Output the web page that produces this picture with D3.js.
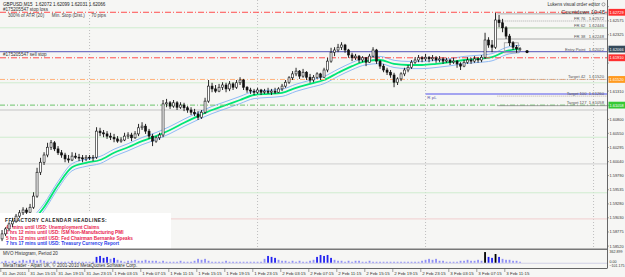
<!DOCTYPE html>
<html>
<head>
<meta charset="utf-8">
<script src="https://cdn.jsdelivr.net/npm/d3@7/dist/d3.min.js"></script>
<style>
  body { margin: 0; background: #fff; }
  svg { display: block; font-family: "Liberation Sans", Arial, sans-serif; }
  text { white-space: pre; }
</style>
</head>
<body>
<script>
// GBPUSD bars (30 min steps)
const firstBarTime = Date.UTC(2011, 0, 31, 11, 30);
const barStepMin = 30;

const open = [
  1.5865,1.5874,1.5883,1.5892,1.5897,1.5906,1.5912,1.5917,1.5913,1.5922,
  1.5942,1.5985,1.6003,1.6016,1.6030,1.6038,1.6027,1.6020,1.6016,1.6009,
  1.6007,1.6014,1.6012,1.6011,1.6009,1.6012,1.6011,1.6012,1.6059,1.6056,
  1.6054,1.6050,1.6048,1.6045,1.6041,1.6043,1.6050,1.6052,1.6047,1.6054,
  1.6065,1.6068,1.6059,1.6050,1.6041,1.6047,1.6052,1.6108,1.6110,1.6104,
  1.6110,1.6102,1.6106,1.6101,1.6097,1.6093,1.6090,1.6084,1.6093,1.6113,
  1.6140,1.6135,1.6131,1.6138,1.6142,1.6135,1.6144,1.6138,1.6146,1.6151,
  1.6138,1.6133,1.6131,1.6129,1.6133,1.6129,1.6131,1.6129,1.6131,1.6129,
  1.6135,1.6140,1.6147,1.6155,1.6162,1.6167,1.6158,1.6165,1.6156,1.6151,
  1.6156,1.6162,1.6156,1.6169,1.6185,1.6201,1.6205,1.6210,1.6214,1.6205,
  1.6196,1.6191,1.6194,1.6187,1.6191,1.6183,1.6194,1.6205,1.6185,1.6176,
  1.6169,1.6165,1.6160,1.6147,1.6153,1.6162,1.6169,1.6174,1.6183,1.6187,
  1.6191,1.6189,1.6192,1.6189,1.6191,1.6187,1.6189,1.6185,1.6187,1.6183,
  1.6185,1.6180,1.6176,1.6183,1.6187,1.6185,1.6189,1.6187,1.6192,1.6223,
  1.6214,1.6210,1.6259,1.6254,1.6245,1.6230,1.6218,1.6210,1.6207
];
const high = [
  1.5881,1.5886,1.5895,1.5903,1.5910,1.5917,1.5922,1.5921,1.5928,1.5949,
  1.5993,1.6011,1.6021,1.6038,1.6043,1.6041,1.6032,1.6025,1.6020,1.6016,
  1.6021,1.6020,1.6018,1.6016,1.6016,1.6016,1.6016,1.6066,1.6065,1.6061,
  1.6059,1.6056,1.6054,1.6050,1.6048,1.6056,1.6057,1.6056,1.6059,1.6072,
  1.6075,1.6072,1.6063,1.6054,1.6050,1.6056,1.6115,1.6117,1.6113,1.6115,
  1.6113,1.6111,1.6110,1.6104,1.6102,1.6099,1.6095,1.6097,1.6119,1.6151,
  1.6146,1.6142,1.6144,1.6147,1.6146,1.6149,1.6147,1.6151,1.6156,1.6153,
  1.6140,1.6137,1.6135,1.6137,1.6135,1.6135,1.6137,1.6135,1.6137,1.6138,
  1.6144,1.6151,1.6158,1.6167,1.6173,1.6169,1.6171,1.6167,1.6162,1.6160,
  1.6165,1.6164,1.6173,1.6191,1.6209,1.6210,1.6216,1.6219,1.6216,1.6207,
  1.6200,1.6198,1.6196,1.6194,1.6192,1.6198,1.6210,1.6207,1.6187,1.6180,
  1.6173,1.6169,1.6164,1.6156,1.6165,1.6173,1.6178,1.6187,1.6192,1.6196,
  1.6194,1.6198,1.6194,1.6196,1.6194,1.6194,1.6192,1.6191,1.6189,1.6191,
  1.6187,1.6183,1.6187,1.6192,1.6191,1.6194,1.6192,1.6196,1.6236,1.6228,
  1.6223,1.6272,1.6268,1.6261,1.6248,1.6234,1.6221,1.6214,1.6210
];
const low = [
  1.5861,1.5870,1.5879,1.5886,1.5894,1.5903,1.5908,1.5910,1.5912,1.5919,
  1.5939,1.5980,1.5998,1.6012,1.6025,1.6023,1.6016,1.6011,1.6003,1.6002,
  1.6005,1.6009,1.6005,1.6003,1.6005,1.6007,1.6005,1.6009,1.6050,1.6048,
  1.6045,1.6043,1.6039,1.6038,1.6038,1.6041,1.6045,1.6041,1.6045,1.6050,
  1.6061,1.6054,1.6045,1.6032,1.6038,1.6043,1.6048,1.6102,1.6099,1.6101,
  1.6097,1.6099,1.6095,1.6092,1.6088,1.6086,1.6079,1.6081,1.6090,1.6110,
  1.6129,1.6128,1.6129,1.6133,1.6129,1.6131,1.6133,1.6135,1.6142,1.6133,
  1.6128,1.6126,1.6124,1.6126,1.6124,1.6126,1.6126,1.6124,1.6126,1.6128,
  1.6131,1.6137,1.6144,1.6151,1.6158,1.6153,1.6155,1.6151,1.6146,1.6147,
  1.6153,1.6151,1.6155,1.6165,1.6182,1.6194,1.6201,1.6205,1.6200,1.6191,
  1.6185,1.6187,1.6182,1.6183,1.6176,1.6182,1.6191,1.6180,1.6171,1.6165,
  1.6160,1.6155,1.6138,1.6142,1.6149,1.6158,1.6165,1.6171,1.6180,1.6183,
  1.6183,1.6185,1.6183,1.6185,1.6182,1.6183,1.6180,1.6182,1.6178,1.6180,
  1.6173,1.6169,1.6174,1.6180,1.6180,1.6182,1.6182,1.6183,1.6189,1.6209,
  1.6201,1.6207,1.6246,1.6237,1.6225,1.6212,1.6205,1.6200,1.6203
];
const close = [
  1.5874,1.5883,1.5892,1.5897,1.5906,1.5912,1.5917,1.5913,1.5922,1.5942,
  1.5985,1.6003,1.6016,1.6030,1.6038,1.6027,1.6020,1.6016,1.6009,1.6007,
  1.6014,1.6012,1.6011,1.6009,1.6012,1.6011,1.6012,1.6059,1.6056,1.6054,
  1.6050,1.6048,1.6045,1.6041,1.6043,1.6050,1.6052,1.6047,1.6054,1.6065,
  1.6068,1.6059,1.6050,1.6041,1.6047,1.6052,1.6108,1.6110,1.6104,1.6110,
  1.6102,1.6106,1.6101,1.6097,1.6093,1.6090,1.6084,1.6093,1.6113,1.6140,
  1.6135,1.6131,1.6138,1.6142,1.6135,1.6144,1.6138,1.6146,1.6151,1.6138,
  1.6133,1.6131,1.6129,1.6133,1.6129,1.6131,1.6129,1.6131,1.6129,1.6135,
  1.6140,1.6147,1.6155,1.6162,1.6167,1.6158,1.6165,1.6156,1.6151,1.6156,
  1.6162,1.6156,1.6169,1.6185,1.6201,1.6205,1.6210,1.6214,1.6205,1.6196,
  1.6191,1.6194,1.6187,1.6191,1.6183,1.6194,1.6205,1.6185,1.6176,1.6169,
  1.6165,1.6160,1.6147,1.6153,1.6162,1.6169,1.6174,1.6183,1.6187,1.6191,
  1.6189,1.6192,1.6189,1.6191,1.6187,1.6189,1.6185,1.6187,1.6183,1.6185,
  1.6180,1.6176,1.6183,1.6187,1.6185,1.6189,1.6187,1.6192,1.6223,1.6214,
  1.6210,1.6259,1.6254,1.6245,1.6230,1.6218,1.6210,1.6207,1.6207
];
// MVO histogram, one value per bar
const mvo = [
  30,60,30,60,30,60, 90,60,90,90,60,90,60,
  30,30,60,30,30,30,30,60,30,30,30,30,30,30,
  180,210,150,180,120,150,90,
  60,30,60,60,90,60,60,90,60,60,60,30,60,
  30,30,30,30,60,30,30,30,60, 120,90,120,60,
  30,30,30,30,60,30,30,30,30,30,30,30,30,30,30,
  120,210,180,150,90,60,60, 30,60,30,60,30,30,60,90,
  180,240,210,240,150,
  90,60,60,30,60,30,60,60,30,30,60,30,30,30,30,30,30,30,
  30,30,30,30,30,30,30, 60,90,120,90,120,60,60,
  30,30,30,30,60, 60,90,60,60,90,60,
  330,180,150,270,180,120,90,90,60,60,30
];
// moving average read every 2 hours, envelope deviation in percent
const maFirstTime = Date.UTC(2011, 0, 31, 11, 30);
const maStepHours = 2;
const maValues = [
  1.5823,1.5863,1.5892,1.5922,1.5962,1.5994,1.6002,1.6007,1.6020,1.6030,
  1.6041,1.6050,1.6061,1.6074,1.6086,1.6097,1.6106,1.6115,1.6124,1.6126,
  1.6128,1.6137,1.6144,1.6151,1.6164,1.6176,1.6185,1.6187,1.6180,1.6178,
  1.6178,1.6180,1.6183,1.6187,1.6189,1.6192,1.6203,1.6207
];
const envelopeDeviation = 0.04;

// order / analysis levels
const stopLoss = 1.62729;
const entryPrice = 1.62022;
const bidPrice = 1.62066;
const orderLevel = 1.61910;
const target42 = 1.61520;
const target100 = 1.61260;
const target127 = 1.61058;
const fibHigh = 1.62700;
const fibLevels = [1.62572, 1.62446, 1.62248];
const fibNames = ["FR 76", "FR 62", "FR 38"];
const pivotLevels = [1.6245, 1.6146, 1.6097, 1.6048, 1.6000, 1.5948, 1.5901];

const priceTicks = [1.58520,1.58775,1.59030,1.59280,1.59535,1.59790,1.60040,1.60295,
  1.60550,1.60800,1.61055,1.61310,1.61560,1.61815,1.62070,1.62325,1.62575,1.62830];
const timeLabels = ["31 Jan 2011","31 Jan 15:15","31 Jan 19:15","31 Jan 23:15","1 Feb 03:15",
  "1 Feb 07:15","1 Feb 11:15","1 Feb 15:15","1 Feb 19:15","1 Feb 23:15","2 Feb 03:15",
  "2 Feb 07:15","2 Feb 11:15","2 Feb 15:15","2 Feb 19:15","2 Feb 23:15","3 Feb 03:15",
  "3 Feb 07:15","3 Feb 11:15"];
const labelFirstTime = Date.UTC(2011, 0, 31, 11, 15);
const daySeparators = [Date.UTC(2011,1,1), Date.UTC(2011,1,2), Date.UTC(2011,1,3), Date.UTC(2011,1,4)];
const mvoTicks = [362.899, 0, -101.175];

const calendarTitle = "FF FACTORY CALENDAR HEADLINES:";
const calendarLines = [
  "42 mins until USD: Unemployment Claims",
  "2 hrs 12 mins until USD: ISM Non-Manufacturing PMI",
  "5 hrs 12 mins until USD: Fed Chairman Bernanke Speaks",
  "7 hrs 17 mins until USD: Treasury Currency Report"
];

// ---- layout ----
const W = 625, H = 277;
const plotRight = 607, mainBottom = 249, subBottom = 268.5;
const HOUR = 3600e3;

const svg = d3.select("body").append("svg").attr("width", W).attr("height", H);

const x = d3.scaleUtc()
  .domain([new Date(Date.UTC(2011,0,31,11,15)), new Date(Date.UTC(2011,1,4,11,15))])
  .range([0.3, 672.3]);
const y = d3.scaleLinear().domain([1.58481, 1.6295]).range([248.3, 0]);
const ySub = d3.scaleLinear().domain([-101.175, 362.899]).range([266, 251]);

const barTimes = close.map((_, i) => new Date(firstBarTime + i * barStepMin * 60e3));
const maTimes = maValues.map((_, i) => new Date(maFirstTime + i * maStepHours * HOUR));

svg.append("rect").attr("width", W).attr("height", H).attr("fill", "#f6f6f4");

const defs = svg.append("defs");
defs.append("clipPath").attr("id", "plot")
  .append("rect").attr("x", 0).attr("y", 0).attr("width", plotRight).attr("height", mainBottom);

const main = svg.append("g").attr("clip-path", "url(#plot)");

// day separators
main.selectAll(".day").data(daySeparators).join("line")
  .attr("x1", d => x(d)).attr("x2", d => x(d))
  .attr("y1", 0).attr("y2", mainBottom)
  .attr("stroke", "#b0b0b0").attr("stroke-width", 0.8).attr("stroke-dasharray", "1,2");

// pivot style lines
const pivotColors = ["#cfeccf", "#cfeccf", "#c4c4c4", "#cfeccf", "#cfcfcf", "#cfeccf", "#f1cfcf"];
main.selectAll(".pivot").data(pivotLevels).join("line")
  .attr("x1", 0).attr("x2", plotRight)
  .attr("y1", d => y(d)).attr("y2", d => y(d))
  .attr("stroke", (d, i) => pivotColors[i]).attr("stroke-width", 1);

// moving average + envelopes
const maLine = d3.line().x((d, i) => x(maTimes[i])).y(d => y(d)).curve(d3.curveMonotoneX);
const envUp = maValues.map(v => v * (1 + envelopeDeviation / 100));
const envDn = maValues.map(v => v * (1 - envelopeDeviation / 100));
[envUp, envDn].forEach(s => main.append("path").attr("d", maLine(s))
  .attr("fill", "none").attr("stroke", "#8fbaf5").attr("stroke-width", 1));
main.append("path").attr("d", maLine(maValues))
  .attr("fill", "none").attr("stroke", "#00e676").attr("stroke-width", 1.8);

// full width order lines
function hline(price, color, dash, width) {
  main.append("line").attr("x1", 0).attr("x2", plotRight)
    .attr("y1", y(price)).attr("y2", y(price))
    .attr("stroke", color).attr("stroke-width", width || 1)
    .attr("stroke-dasharray", dash || null);
}
hline(stopLoss, "#ff4d4d", "6,2,1,2");
hline(entryPrice, "#7474c4", null, 1.3);
hline(orderLevel, "#ff4d4d", "6,2,1,2");
hline(target42, "#ffb07a", "5,2,1,2");
hline(target127, "#6cc46c", "5,2,1,2");

// fibo / target lines starting at the spike
const fibStart = x(new Date(Date.UTC(2011,1,3,10,15)));
function seg(x1, price, color, dash, width) {
  main.append("line").attr("x1", x1).attr("x2", plotRight)
    .attr("y1", y(price)).attr("y2", y(price))
    .attr("stroke", color).attr("stroke-width", width || 0.8)
    .attr("stroke-dasharray", dash || null);
}
seg(fibStart, fibHigh, "#9a9a9a");
seg(fibStart, fibLevels[0], "#9a9a9a", "1,1");
seg(fibStart, fibLevels[1], "#b8c8b0");
seg(fibStart, fibLevels[2], "#9a9a9a");
seg(fibStart, target42, "#a0a0a0", "1,1");
seg(x(new Date(Date.UTC(2011,1,3,0,0))), target100, "#a4a4f0", null, 2);
seg(fibStart, target100 - 0.0004, "#b0a090", "1,1");
seg(fibStart, target127 - 0.0001, "#8a8a8a");

// small box at the last bars
main.append("rect")
  .attr("x", x(new Date(Date.UTC(2011,1,3,11,15))))
  .attr("y", y(1.6218))
  .attr("width", x(new Date(Date.UTC(2011,1,3,13,15))) - x(new Date(Date.UTC(2011,1,3,11,15))))
  .attr("height", y(1.6200) - y(1.6218))
  .attr("fill", "none").attr("stroke", "#9a9a9a").attr("stroke-width", 0.8);

// calendar box
const cal = svg.append("g");
cal.append("rect").attr("x", 0).attr("y", 213).attr("width", 171).attr("height", mainBottom - 213)
  .attr("fill", "#ffffff");
cal.append("text").attr("x", 5).attr("y", 221.5).attr("font-size", 4.8).attr("font-weight", "bold")
  .attr("letter-spacing", 0.45).attr("fill", "#222").text(calendarTitle);
const calColors = ["#e8254f", "#e8254f", "#e8254f", "#2a3ee8"];
cal.selectAll(".cl").data(calendarLines).join("text")
  .attr("x", 6).attr("y", (d, i) => 228.8 + i * 5.4)
  .attr("font-size", 4.7).attr("font-weight", "bold")
  .attr("fill", (d, i) => calColors[i]).text(d => d);

// candles
const candles = svg.append("g").attr("clip-path", "url(#plot)");
candles.selectAll(".wick").data(close).join("line")
  .attr("x1", (d, i) => x(barTimes[i])).attr("x2", (d, i) => x(barTimes[i]))
  .attr("y1", (d, i) => y(high[i])).attr("y2", (d, i) => y(low[i]))
  .attr("stroke", "#111").attr("stroke-width", 0.9);
candles.selectAll(".body").data(close).join("rect")
  .attr("x", (d, i) => x(barTimes[i]) - 1)
  .attr("width", 2)
  .attr("y", (d, i) => y(Math.max(open[i], d)))
  .attr("height", (d, i) => Math.max(0.8, Math.abs(y(open[i]) - y(d))))
  .attr("fill", (d, i) => d >= open[i] ? "#ffffff" : "#111")
  .attr("stroke", "#111").attr("stroke-width", 0.6);

// current price marker
svg.append("circle").attr("cx", x(new Date(Date.UTC(2011,1,3,14,30)))).attr("cy", y(entryPrice))
  .attr("r", 1.6).attr("fill", "#111");

// chart texts
const fs = 4.6;
function txt(xp, yp, s, opts) {
  opts = opts || {};
  return svg.append("text").attr("x", xp).attr("y", yp)
    .attr("font-size", opts.size || fs).attr("fill", opts.fill || "#222")
    .attr("text-anchor", opts.anchor || "start")
    .attr("font-weight", opts.weight || null).text(s);
}
const fmt = d3.format(".5f");
txt(3, 6, "GBPUSD,M15  1.62072 1.62099 1.62031 1.62066");
txt(3, y(stopLoss) - 0.8, "#175205547 stop loss", { fill: "#333" });
txt(8, 16.8, "300% of ATR (20)      Min. Stop (Dist.)     70 pips", { fill: "#444" });
txt(3, y(entryPrice) + 4.6, "#175205547 sell stop", { fill: "#333" });
txt(600, 6, "Lukens visual order editor", { anchor: "end", fill: "#333" });
svg.append("circle").attr("cx", 603.5).attr("cy", 4.4).attr("r", 1.6)
  .attr("fill", "none").attr("stroke", "#555").attr("stroke-width", 0.5);
txt(605, 13.6, "Countdown 10:45", { anchor: "end", size: 5.6, fill: "#333" });
fibNames.forEach((n, i) => txt(604, y(fibLevels[i]) - 0.8, n + "   " + fmt(fibLevels[i]), { anchor: "end", size: 4.2, fill: "#555" }));
txt(604, y(entryPrice) - 0.8, "Entry Point   " + fmt(entryPrice), { anchor: "end", size: 4.2, fill: "#555" });
txt(604, y(target42) - 1, "Target 42   " + fmt(target42), { anchor: "end", size: 4.2, fill: "#555" });
txt(604, y(target100) + 1.5, "Target 100  " + fmt(target100), { anchor: "end", size: 4.2, fill: "#555" });
txt(604, y(target127) - 1, "Target 127  " + fmt(target127), { anchor: "end", size: 4.2, fill: "#555" });
txt(x(new Date(Date.UTC(2011,1,3,0,15))), y(target100) + 5.2, "R pL", { size: 4.4, fill: "#5a5aa8" });

// right price axis
const axisMarks = [stopLoss, bidPrice, orderLevel, target42, target127];
const markFill = ["#ff3030", "#34495a", "#ff3030", "#ff9a1f", "#36c936"];
const axFont = 3.9;
svg.append("line").attr("x1", plotRight + 0.5).attr("x2", plotRight + 0.5).attr("y1", 0).attr("y2", subBottom)
  .attr("stroke", "#666").attr("stroke-width", 1);
svg.selectAll(".pt").data(priceTicks).join("line")
  .attr("x1", plotRight).attr("x2", plotRight + 2)
  .attr("y1", d => y(d)).attr("y2", d => y(d)).attr("stroke", "#666").attr("stroke-width", 0.6);
// labels hidden under a coloured marker are left out
const freeTicks = priceTicks.filter(t => axisMarks.every(m => Math.abs(y(m) - y(t)) > 6));
svg.selectAll(".pl").data(freeTicks).join("text")
  .attr("x", plotRight + 2.5).attr("y", d => y(d) + 1.4)
  .attr("font-size", axFont).attr("fill", "#333").text(d => fmt(d));

axisMarks.forEach((p, i) => {
  svg.append("rect").attr("x", plotRight + 1.5).attr("y", y(p) - 3.4)
    .attr("width", W - plotRight).attr("height", 6.8).attr("fill", markFill[i]);
  svg.append("text").attr("x", plotRight + 2.5).attr("y", y(p) + 1.4)
    .attr("font-size", axFont).attr("fill", "#fff").text(fmt(p));
});

// main / sub window border
svg.append("line").attr("x1", 0).attr("x2", plotRight).attr("y1", mainBottom + 0.3).attr("y2", mainBottom + 0.3)
  .attr("stroke", "#777").attr("stroke-width", 1.4);

// MVO sub window
txt(3, 255.2, "MVO Histogram, Period 20", { size: 4.6, fill: "#333" });
svg.append("line").attr("x1", 0).attr("x2", plotRight).attr("y1", ySub(0) + 0.5).attr("y2", ySub(0) + 0.5)
  .attr("stroke", "#d0d0e4").attr("stroke-width", 1.2);
svg.selectAll(".mvo").data(mvo).join("rect")
  .attr("x", (d, i) => x(barTimes[i]) - 0.9).attr("width", 1.8)
  .attr("y", d => ySub(d)).attr("height", d => ySub(0) - ySub(d))
  .attr("fill", d => d >= 250 ? "#000" : d >= 150 ? "#2323f0" : "#8f8ff5");
svg.selectAll(".mt").data(mvoTicks).join("text")
  .attr("x", plotRight + 2.5).attr("y", (d, i) => [253.4, 262.6, 267.4][i])
  .attr("font-size", 3.6).attr("fill", "#333")
  .text(d => d === 0 ? "0.00" : d3.format(".3f")(d));
txt(3, 267.3, "MetaTrader - Alpari UK, \u00a9 2001-2010 MetaQuotes Software Corp.", { size: 4.6, fill: "#333" });

// time axis
svg.append("line").attr("x1", 0).attr("x2", plotRight).attr("y1", subBottom).attr("y2", subBottom)
  .attr("stroke", "#666").attr("stroke-width", 1);
const labelTimes = timeLabels.map((_, j) => new Date(labelFirstTime + j * 4 * HOUR));
svg.selectAll(".tt").data(labelTimes).join("line")
  .attr("x1", d => x(d) + 0.5).attr("x2", d => x(d) + 0.5)
  .attr("y1", subBottom).attr("y2", subBottom + 3.5).attr("stroke", "#666").attr("stroke-width", 0.6);
svg.selectAll(".tl").data(timeLabels).join("text")
  .attr("x", (d, j) => x(labelTimes[j]) + 2).attr("y", 275.3)
  .attr("font-size", 4.4).attr("fill", "#333").text(d => d);
</script>
</body>
</html>
